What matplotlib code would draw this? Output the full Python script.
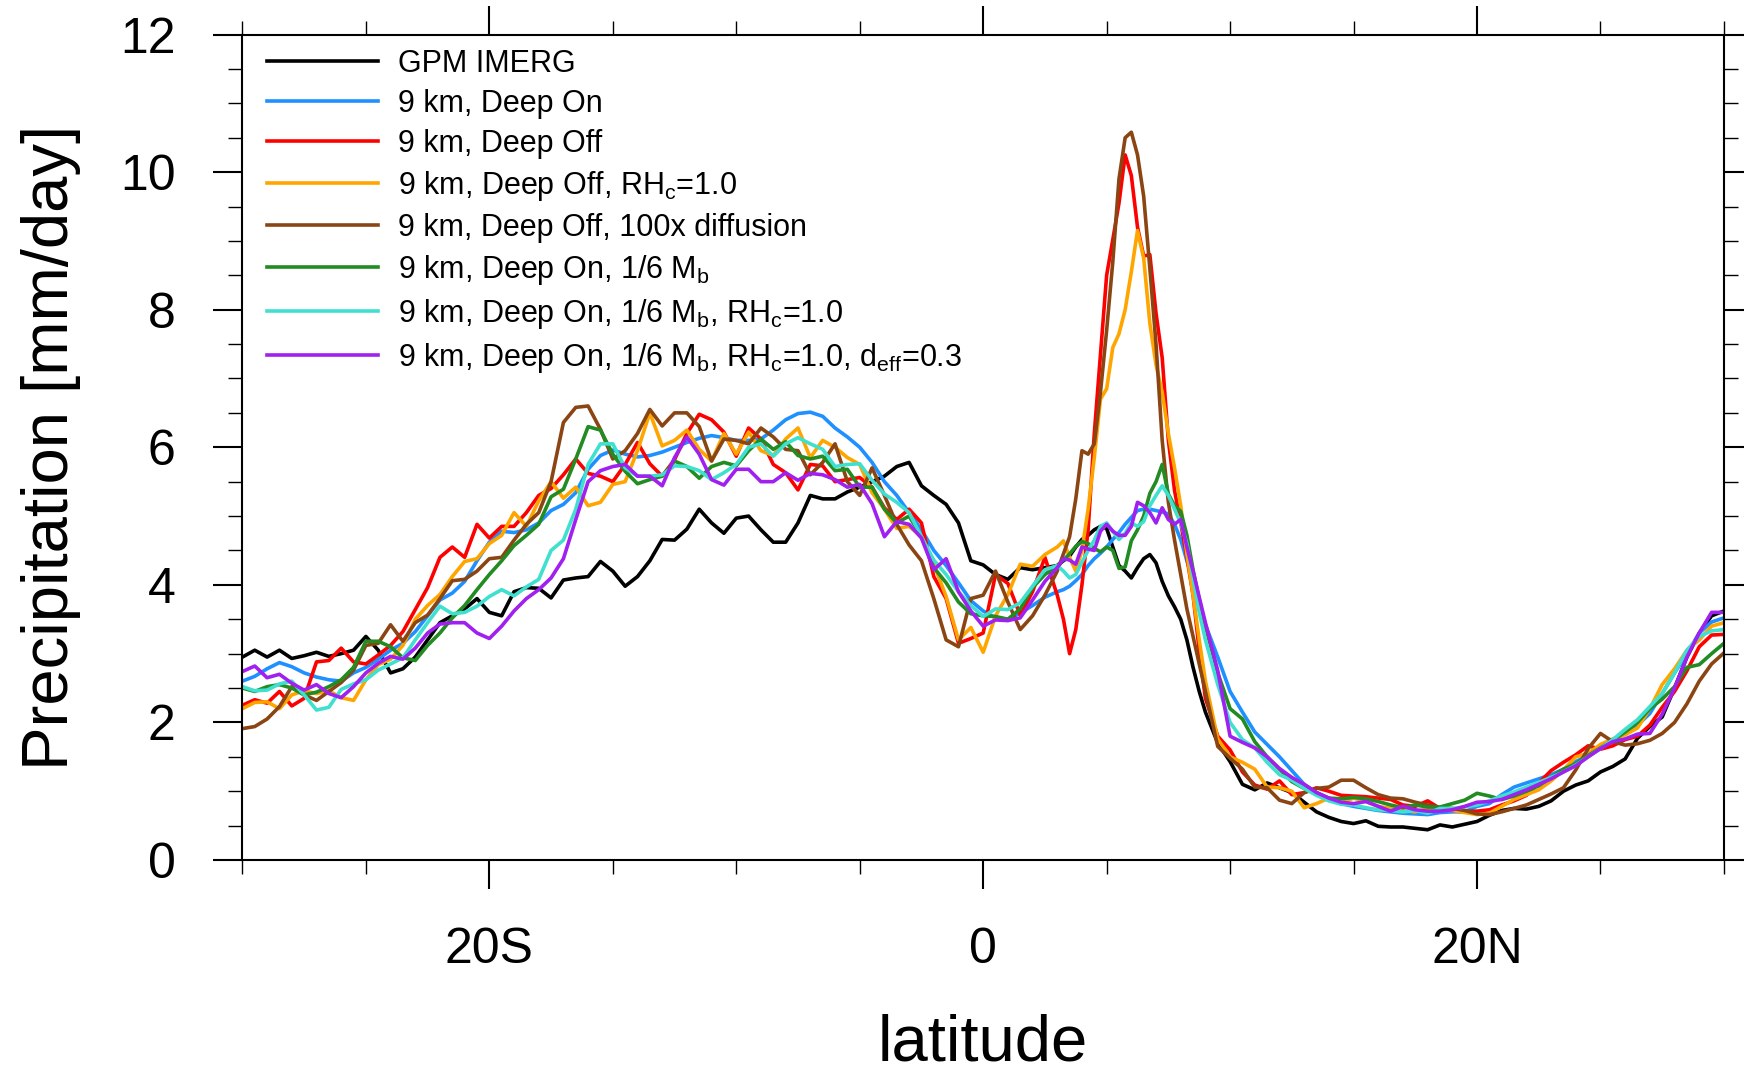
import numpy as np
import matplotlib
matplotlib.use("Agg")
import matplotlib.pyplot as plt
from matplotlib.ticker import MultipleLocator

plt.rcParams['font.family'] = ['Liberation Sans', 'DejaVu Sans']
plt.rcParams['mathtext.fontset'] = 'custom'
plt.rcParams['mathtext.rm'] = 'Liberation Sans'
plt.rcParams['mathtext.it'] = 'Liberation Sans'
plt.rcParams['mathtext.default'] = 'regular'

# latitude grid: 0.5 deg, finer (0.25 deg) through the ITCZ peak
lat = np.concatenate([np.arange(-30, 3, 0.5), np.arange(3, 9, 0.25), np.arange(9, 30.01, 0.5)])

# zonal mean precipitation [mm/day]
gpm = [2.95, 3.05, 2.95, 3.05, 2.93, 2.97, 3.02, 2.96, 3.0, 3.05,
       3.25, 3.05, 2.72, 2.78, 2.95, 3.2, 3.45, 3.55, 3.65, 3.8,
       3.6, 3.55, 3.9, 3.96, 3.95, 3.81, 4.07, 4.1, 4.12, 4.34,
       4.2, 3.98, 4.12, 4.35, 4.66, 4.65, 4.81, 5.1, 4.9, 4.75,
       4.97, 5.0, 4.8, 4.62, 4.62, 4.9, 5.3, 5.25, 5.25, 5.35,
       5.42, 5.5, 5.58, 5.72, 5.78, 5.44, 5.3, 5.17, 4.9, 4.35,
       4.29, 4.15, 4.08, 4.25, 4.22, 4.25,
       4.28, 4.35, 4.42, 4.55, 4.66, 4.72, 4.8, 4.85, 4.82, 4.55, 4.28, 4.2,
       4.1, 4.25, 4.38, 4.44, 4.32, 4.05, 3.84, 3.68, 3.5, 3.2, 2.8, 2.45,
       2.15, 1.7, 1.43, 1.1, 1.02, 1.12, 1.05, 0.98, 0.84, 0.7,
       0.62, 0.56, 0.53, 0.57, 0.49, 0.48, 0.48, 0.46, 0.44, 0.51,
       0.48, 0.52, 0.56, 0.65, 0.72, 0.75, 0.74, 0.78, 0.86, 1.0,
       1.09, 1.15, 1.28, 1.36, 1.47, 1.77, 1.94, 2.08, 2.5, 2.95,
       3.3, 3.55, 3.62]

deep_on = [2.6, 2.67, 2.78, 2.87, 2.81, 2.72, 2.66, 2.62, 2.6, 2.72,
           2.8, 2.92, 3.05, 3.15, 3.32, 3.55, 3.78, 3.88, 4.05, 4.35,
           4.62, 4.78, 4.76, 4.8, 4.9, 5.08, 5.17, 5.34, 5.68, 5.88,
           5.96, 5.9, 5.86, 5.88, 5.93, 6.0, 6.07, 6.13, 6.17, 6.14,
           6.1, 6.1, 6.12, 6.25, 6.4, 6.49, 6.51, 6.45, 6.28, 6.15,
           6.0, 5.78, 5.5, 5.3, 5.05, 4.8, 4.5, 4.28, 4.03, 3.77,
           3.62, 3.52, 3.5, 3.59, 3.7, 3.82,
           3.9, 3.93, 3.98, 4.06, 4.15, 4.28, 4.38, 4.46, 4.55, 4.66, 4.76, 4.88,
           4.98, 5.08, 5.1, 5.1, 5.08, 5.06, 5.03, 4.88, 4.66, 4.35, 4.05, 3.75,
           3.42, 2.95, 2.45, 2.15, 1.86, 1.68, 1.5, 1.3, 1.1, 0.98,
           0.87, 0.82, 0.78, 0.75, 0.72, 0.7, 0.68, 0.67, 0.66, 0.69,
           0.7, 0.7, 0.78, 0.82, 0.95, 1.06, 1.12, 1.18, 1.24, 1.32,
           1.43, 1.52, 1.62, 1.73, 1.84, 1.96, 2.13, 2.42, 2.72, 3.0,
           3.3, 3.46, 3.52]

deep_off = [2.25, 2.33, 2.28, 2.45, 2.24, 2.35, 2.88, 2.9, 3.08, 2.88,
            2.85, 2.98, 3.12, 3.32, 3.64, 3.96, 4.4, 4.55, 4.4, 4.88,
            4.68, 4.85, 4.85, 5.05, 5.3, 5.4, 5.6, 5.83, 5.62, 5.58,
            5.5, 5.75, 6.07, 5.76, 5.58, 5.82, 6.2, 6.48, 6.4, 6.22,
            5.87, 6.28, 6.12, 5.75, 5.63, 5.38, 5.75, 5.73, 5.5, 5.53,
            5.56, 5.42, 5.12, 4.95, 5.1, 4.9, 4.12, 3.8, 3.15, 3.22,
            3.3, 4.15, 4.02, 3.56, 3.9, 4.4,
            3.85, 3.5, 3.0, 3.35, 4.0, 4.8, 6.2, 7.35, 8.5, 9.02, 9.55, 10.25,
            9.95, 9.2, 8.78, 8.8, 7.95, 7.3, 6.1, 5.37, 4.9, 4.4, 3.85, 3.05,
            2.35, 1.8, 1.6, 1.28, 1.09, 1.03, 1.15, 0.95, 0.98, 1.05,
            1.0, 0.94, 0.93, 0.92, 0.9, 0.88, 0.8, 0.78, 0.86, 0.75,
            0.72, 0.71, 0.71, 0.73, 0.8, 0.86, 0.94, 1.12, 1.3, 1.42,
            1.53, 1.66, 1.61, 1.66, 1.75, 1.8, 1.96, 2.22, 2.45, 2.75,
            3.1, 3.27, 3.28]

deep_off_rh = [2.2, 2.29, 2.3, 2.2, 2.4, 2.46, 2.42, 2.46, 2.36, 2.32,
               2.62, 2.84, 2.92, 3.12, 3.5, 3.7, 3.86, 4.12, 4.34, 4.38,
               4.6, 4.72, 5.05, 4.85, 5.22, 5.5, 5.26, 5.42, 5.15, 5.2,
               5.46, 5.5, 5.95, 6.5, 6.02, 6.1, 6.25, 5.97, 5.8, 6.2,
               5.9, 6.22, 5.95, 5.88, 6.12, 6.28, 5.85, 6.1, 6.0, 5.85,
               5.75, 5.34, 5.1, 4.82, 4.85, 4.7, 4.3, 3.83, 3.2, 3.38,
               3.02, 3.55, 3.86, 4.3, 4.27, 4.44,
               4.55, 4.64, 4.4, 4.2, 4.5, 5.1, 5.85, 6.7, 6.85, 7.45, 7.65, 8.0,
               8.55, 9.15, 8.75, 7.8, 7.2, 6.8, 6.2, 5.7, 5.15, 4.45, 3.85, 3.2,
               2.6, 1.76, 1.5, 1.42, 1.32, 1.06, 1.05, 1.0, 0.76, 0.82,
               0.9, 0.83, 0.9, 0.85, 0.78, 0.75, 0.72, 0.7, 0.75, 0.73,
               0.72, 0.69, 0.66, 0.68, 0.78, 0.88, 0.95, 1.02, 1.15, 1.31,
               1.5, 1.55, 1.68, 1.76, 1.82, 1.92, 2.2, 2.55, 2.78, 3.05,
               3.2, 3.4, 3.45]

deep_off_diff = [1.91, 1.94, 2.05, 2.23, 2.52, 2.4, 2.32, 2.45, 2.58, 2.76,
                 3.12, 3.15, 3.42, 3.18, 3.45, 3.56, 3.8, 4.06, 4.08, 4.2,
                 4.38, 4.4, 4.65, 4.88, 5.05, 5.5, 6.36, 6.58, 6.6, 6.26,
                 5.83, 5.95, 6.2, 6.55, 6.31, 6.5, 6.5, 6.3, 5.8, 6.12,
                 6.1, 6.05, 6.28, 6.15, 5.97, 5.95, 5.6, 5.78, 6.05, 5.5,
                 5.3, 5.7, 5.3, 4.88, 4.58, 4.35, 3.8, 3.2, 3.1, 3.8,
                 3.85, 4.2, 3.75, 3.35, 3.55, 3.85,
                 4.2, 4.45, 4.7, 5.25, 5.95, 5.9, 6.05, 6.8, 7.7, 8.7, 9.9, 10.5,
                 10.58, 10.25, 9.65, 8.6, 7.5, 6.1, 5.2, 4.65, 4.15, 3.65, 3.25, 2.85,
                 2.45, 1.65, 1.48, 1.32, 1.06, 1.05, 0.87, 0.82, 0.98, 1.04,
                 1.06, 1.16, 1.16, 1.05, 0.95, 0.9, 0.89, 0.84, 0.8, 0.76,
                 0.75, 0.72, 0.67, 0.66, 0.7, 0.75, 0.8, 0.88, 0.96, 1.05,
                 1.31, 1.62, 1.84, 1.72, 1.67, 1.69, 1.74, 1.84, 2.0, 2.27,
                 2.6, 2.85, 3.01]

deep_on_mb = [2.5, 2.45, 2.52, 2.55, 2.5, 2.4, 2.44, 2.52, 2.62, 2.8,
              3.18, 3.18, 3.1, 2.94, 2.9, 3.12, 3.3, 3.52, 3.7, 3.93,
              4.15, 4.35, 4.57, 4.72, 4.88, 5.28, 5.39, 5.83, 6.3, 6.25,
              5.9, 5.65, 5.47, 5.53, 5.58, 5.8, 5.72, 5.55, 5.72, 5.78,
              5.73, 5.95, 6.12, 5.97, 6.08, 5.88, 5.83, 5.87, 5.66, 5.68,
              5.42, 5.42, 5.1, 4.9, 5.0, 4.7, 4.25, 4.03, 3.75, 3.58,
              3.55, 3.54, 3.5, 3.65, 3.96, 4.15,
              4.28, 4.36, 4.45, 4.56, 4.63, 4.6, 4.53, 4.48, 4.55, 4.5, 4.24, 4.26,
              4.64, 4.8, 5.0, 5.33, 5.5, 5.75, 5.32, 5.15, 5.07, 4.72, 4.22, 3.78,
              3.4, 2.72, 2.2, 2.05, 1.72, 1.5, 1.32, 1.14, 1.04, 0.98,
              0.9, 0.89, 0.91, 0.89, 0.85, 0.8, 0.76, 0.8, 0.77, 0.77,
              0.82, 0.87, 0.97, 0.93, 0.88, 0.93, 1.0, 1.08, 1.2, 1.32,
              1.4, 1.52, 1.63, 1.74, 1.86, 2.0, 2.2, 2.34, 2.52, 2.8,
              2.84, 3.0, 3.15]

deep_on_mb_rh = [2.52, 2.46, 2.47, 2.56, 2.6, 2.4, 2.18, 2.22, 2.48, 2.56,
                 2.62, 2.76, 2.85, 2.94, 3.2, 3.45, 3.69, 3.58, 3.6, 3.69,
                 3.83, 3.93, 3.84, 3.97, 4.08, 4.5, 4.65, 5.1, 5.75, 6.05,
                 6.05, 5.7, 5.58, 5.58, 5.6, 5.73, 5.72, 5.66, 5.53, 5.63,
                 5.75, 6.0, 6.05, 5.87, 6.05, 6.14, 6.05, 5.97, 5.72, 5.75,
                 5.76, 5.52, 5.32, 5.2, 5.05, 4.7, 4.36, 4.15, 3.9, 3.7,
                 3.54, 3.65, 3.64, 3.74, 3.98, 4.22,
                 4.28, 4.2, 4.1, 4.15, 4.33, 4.5, 4.65, 4.85, 4.9, 4.78, 4.66, 4.75,
                 4.9, 4.85, 4.92, 5.15, 5.3, 5.44, 5.3, 5.1, 4.9, 4.6, 4.1, 3.6,
                 3.2, 2.55, 2.0, 1.75, 1.63, 1.42, 1.24, 1.16, 1.04, 0.94,
                 0.86, 0.81, 0.8, 0.76, 0.73, 0.72, 0.7, 0.72, 0.68, 0.75,
                 0.75, 0.77, 0.8, 0.86, 0.93, 0.99, 1.06, 1.13, 1.2, 1.28,
                 1.38, 1.5, 1.62, 1.75, 1.9, 2.04, 2.23, 2.42, 2.72, 3.05,
                 3.25, 3.33, 3.35]

deep_on_mb_rh_deff = [2.74, 2.82, 2.65, 2.7, 2.57, 2.47, 2.55, 2.42, 2.36, 2.52,
                      2.72, 2.86, 2.96, 2.92, 3.08, 3.3, 3.43, 3.45, 3.45, 3.3,
                      3.22, 3.4, 3.62, 3.8, 3.93, 4.1, 4.38, 4.95, 5.5, 5.66,
                      5.72, 5.75, 5.58, 5.58, 5.44, 5.85, 6.15, 5.9, 5.53, 5.45,
                      5.68, 5.68, 5.5, 5.5, 5.63, 5.52, 5.62, 5.6, 5.53, 5.42,
                      5.46, 5.18, 4.7, 4.92, 4.88, 4.68, 4.22, 4.38, 3.9, 3.62,
                      3.4, 3.49, 3.48, 3.52, 3.78, 4.05,
                      4.25, 4.38, 4.36, 4.3, 4.55, 4.52, 4.5, 4.78, 4.88, 4.78, 4.72, 4.72,
                      4.85, 5.2, 5.15, 5.05, 4.9, 5.12, 4.95, 4.88, 4.95, 4.55, 4.2, 3.82,
                      3.45, 2.75, 1.8, 1.71, 1.63, 1.5, 1.33, 1.2, 1.1, 0.98,
                      0.9, 0.84, 0.82, 0.85, 0.78, 0.71, 0.78, 0.73, 0.71, 0.71,
                      0.73, 0.78, 0.84, 0.85, 0.88, 0.95, 1.02, 1.1, 1.18, 1.28,
                      1.37, 1.5, 1.62, 1.72, 1.76, 1.83, 1.84, 2.12, 2.5, 2.95,
                      3.3, 3.6, 3.6]

series = [gpm, deep_on, deep_off, deep_off_rh, deep_off_diff,
          deep_on_mb, deep_on_mb_rh, deep_on_mb_rh_deff]
labels = ["GPM IMERG",
          "9 km, Deep On",
          "9 km, Deep Off",
          "9 km, Deep Off, RH$_c$=1.0",
          "9 km, Deep Off, 100x diffusion",
          "9 km, Deep On, 1/6 M$_b$",
          "9 km, Deep On, 1/6 M$_b$, RH$_c$=1.0",
          "9 km, Deep On, 1/6 M$_b$, RH$_c$=1.0, d$_{eff}$=0.3"]
colors = ["black", "#1E90FF", "#FF0000", "#FFA500", "#8B4513",
          "#228B22", "#40E0D0", "#A020F0"]

fig = plt.figure(figsize=(17.44, 10.69), dpi=100)
ax = fig.add_axes([0.139, 0.1955, 0.8495, 0.7722])

for vals, lab, col in zip(series, labels, colors):
    ax.plot(lat, vals, color=col, lw=2.6, label=lab)

ax.set_xlim(-30, 30)
ax.set_ylim(0, 12)
ax.set_xticks([-20, 0, 20])
ax.set_xticklabels(["20S", "0", "20N"])
ax.xaxis.set_minor_locator(MultipleLocator(5))
ax.set_yticks(range(0, 13, 2))
ax.yaxis.set_minor_locator(MultipleLocator(0.5))
ax.tick_params(which='both', direction='out', top=True, right=True)
ax.tick_params(which='major', length=21, width=1.5, labelsize=36)
ax.tick_params(which='minor', length=10, width=1.0)
ax.tick_params(axis='x', which='major', pad=27)
ax.tick_params(axis='y', which='major', pad=27)
for sp in ax.spines.values():
    sp.set_linewidth(1.5)

ax.set_ylabel("Precipitation [mm/day]", fontsize=47, va='center')
ax.yaxis.set_label_coords(-0.129, 0.5)
ax.set_xlabel("latitude", fontsize=47, va='baseline')
ax.xaxis.set_label_coords(0.5, -0.243)

ax.legend(loc='upper left', bbox_to_anchor=(0.0165, 0.983), frameon=False,
          fontsize=22, handlelength=3.64, handletextpad=0.66,
          labelspacing=0.33, borderpad=0, borderaxespad=0)

fig.savefig("out.png", dpi=100)
